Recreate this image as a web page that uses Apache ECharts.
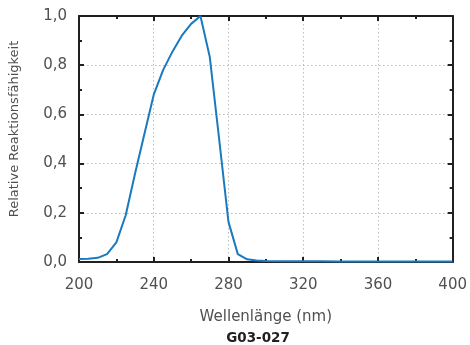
<!DOCTYPE html>
<html>
<head>
<meta charset="utf-8">
<script src="https://cdn.jsdelivr.net/npm/echarts@6/dist/echarts.min.js"></script>
<style>
html,body{margin:0;padding:0;background:#fff;}
#chart{width:470px;height:345px;}
</style>
</head>
<body>
<div id="chart"></div>
<script>
var wavelengths = [200,205,210,215,220,225,230,235,240,245,250,255,260,265,270,275,280,285,290,295,300,310,320,330,340,350,360,370,380,390,400];
var response    = [0.012,0.013,0.017,0.032,0.08,0.19,0.36,0.52,0.68,0.78,0.855,0.92,0.968,1.0,0.833,0.5,0.163,0.032,0.011,0.006,0.004,0.003,0.003,0.003,0.002,0.002,0.002,0.002,0.002,0.002,0.002];
var xTicks = [200,240,280,320,360,400];
var yTicks = ['0,0','0,2','0,4','0,6','0,8','1,0'];
var xTitle = 'Wellenlänge (nm)';
var yTitle = 'Relative Reaktionsfähigkeit';
var chartCode = 'G03-027';

var FONT = '"DejaVu Sans", sans-serif';
var AXC = '#231f20';
var TXT = '#505050';

var chart = echarts.init(document.getElementById('chart'), null, {renderer:'canvas'});
var pts = wavelengths.map(function(w,i){return [w, response[i]];});

var axisLine = {show:true, onZero:false, lineStyle:{color:AXC, width:2}};
var tick = {show:true, inside:true, length:5, lineStyle:{color:AXC, width:2}};
var minor = {show:true, splitNumber:2, length:3, lineStyle:{color:AXC, width:2}};
var grid = {show:true, lineStyle:{color:'#bdbdbd', type:[1.5,2.5], width:1}};

chart.setOption({
  animation:false,
  backgroundColor:'#fff',
  graphic:[{
    type:'text', x:258, y:338,
    style:{text: chartCode, x:0, y:0, align:'center', verticalAlign:'middle',
      font:'bold 13.5px "DejaVu Sans", sans-serif', fill:'#231f20'}
  },{
    type:'text', x:15, y:129, rotation:Math.PI/2,
    style:{text: yTitle, x:0, y:0, align:'center', verticalAlign:'middle',
      font:'13px "DejaVu Sans", sans-serif', fill:TXT}
  }],
  grid:{left:79, right:17, top:16, bottom:83},
  xAxis:[{
    type:'value', min:200, max:400, interval:40, position:'bottom',
    name: xTitle, nameLocation:'middle', nameGap:48,
    nameTextStyle:{fontFamily:FONT, fontSize:15, color:TXT},
    axisLine:axisLine, axisTick:tick, minorTick:minor, splitLine:grid,
    axisLabel:{margin:16, fontFamily:FONT, fontSize:15, color:TXT,
      formatter:function(v){return xTicks.indexOf(v)>=0 ? String(v) : '';}}
  },{
    type:'value', min:200, max:400, interval:40, position:'top',
    axisLine:axisLine, axisTick:tick, minorTick:minor, splitLine:{show:false},
    axisLabel:{show:false}
  }],
  yAxis:[{
    type:'value', min:0, max:1, interval:0.2, position:'left',
    axisLine:axisLine, axisTick:tick, minorTick:minor, splitLine:grid,
    axisLabel:{margin:12, fontFamily:FONT, fontSize:15, color:TXT,
      formatter:function(v){return yTicks[Math.round(v/0.2)];}}
  },{
    type:'value', min:0, max:1, interval:0.2, position:'right',
    axisLine:axisLine, axisTick:tick, minorTick:minor, splitLine:{show:false},
    axisLabel:{show:false}
  }],
  series:[{
    type:'line', data:pts, xAxisIndex:0, yAxisIndex:0,
    showSymbol:false, symbol:'none', smooth:false,
    lineStyle:{color:'#1a7abf', width:2}, z:1
  }]
});
</script>
</body>
</html>
